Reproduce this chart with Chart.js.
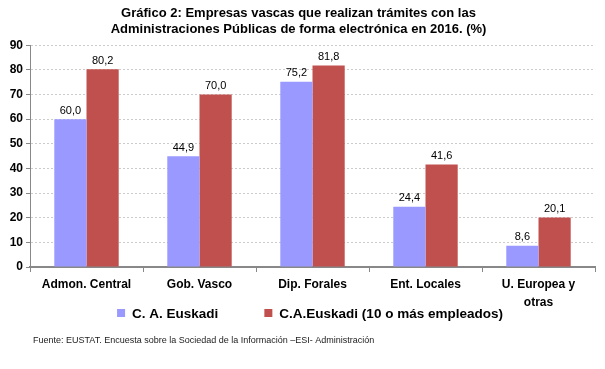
<!DOCTYPE html>
<html>
<head>
<meta charset="utf-8">
<script src="https://cdn.jsdelivr.net/npm/chart.js@4/dist/chart.umd.min.js"></script>
<style>
  html, body { margin: 0; padding: 0; background: #fff; }
  #wrap { width: 605px; height: 369px; }
</style>
</head>
<body>
<div id="wrap"><canvas id="chart" width="605" height="369"></canvas></div>
<script>
// datos del grafico
const categorias = ['Admon. Central', 'Gob. Vasco', 'Dip. Forales', 'Ent. Locales', ['U. Europea y', 'otras']];
const euskadi = [60.0, 44.9, 75.2, 24.4, 8.6];
const euskadi10 = [80.2, 70.0, 81.8, 41.6, 20.1];
const series = ['C. A. Euskadi', 'C.A.Euskadi (10 o más empleados)'];
const ticksY = [0, 10, 20, 30, 40, 50, 60, 70, 80, 90];
const fuente = 'Fuente: EUSTAT. Encuesta sobre la Sociedad de la Información –ESI- Administración';

const FONT = "'Liberation Sans', Arial, sans-serif";

// etiquetas encima de las barras
const etiquetas = {
    id: 'etiquetas',
    afterDatasetsDraw(chart) {
        const ctx = chart.ctx;
        ctx.save();
        ctx.font = '11px ' + FONT;
        ctx.fillStyle = '#000';
        ctx.textAlign = 'center';
        ctx.textBaseline = 'bottom';
        chart.data.datasets.forEach((ds, i) => {
            chart.getDatasetMeta(i).data.forEach((bar, j) => {
                ctx.fillText(ds.data[j].toFixed(1).replace('.', ','), bar.x, bar.y - 3);
            });
        });
        ctx.restore();
    }
};

// leyenda propia (mas espacio entre series) y la fuente abajo
const leyendaYFuente = {
    id: 'leyendaYFuente',
    afterDraw(chart) {
        const ctx = chart.ctx;
        const ds = chart.data.datasets;
        ctx.save();
        ctx.font = 'bold 13.5px ' + FONT;
        ctx.textBaseline = 'middle';
        const gap = 46;
        const anchos = ds.map(d => 15 + ctx.measureText(d.label).width);
        let x = 310 - (anchos.reduce((a, b) => a + b, 0) + gap) / 2;
        const y = 313;
        ds.forEach((d, i) => {
            ctx.fillStyle = d.backgroundColor;
            ctx.fillRect(x, y - 4, 8, 8);
            ctx.fillStyle = '#000';
            ctx.fillText(d.label, x + 15, y + 1);
            x += anchos[i] + gap;
        });

        ctx.font = '9px ' + FONT;
        ctx.fillStyle = '#222';
        ctx.fillText(fuente, 33, 341);
        ctx.restore();
    }
};

new Chart(document.getElementById('chart'), {
    type: 'bar',
    data: {
        labels: categorias,
        datasets: [
            { label: series[0], data: euskadi, backgroundColor: '#9999FF' },
            { label: series[1], data: euskadi10, backgroundColor: '#C0504D' }
        ]
    },
    options: {
        responsive: false,
        animation: false,
        devicePixelRatio: 1,
        categoryPercentage: 0.57,
        barPercentage: 1,
        layout: { padding: { left: 2, right: 10, top: 4, bottom: 53 } },
        plugins: {
            title: {
                display: true,
                text: ['Gráfico 2: Empresas vascas que realizan trámites con las', 'Administraciones Públicas de forma electrónica en 2016. (%)'],
                font: { family: FONT, size: 13, weight: 'bold' },
                color: '#000',
                lineHeight: 1.3,
                padding: { top: 2, bottom: 8 }
            },
            legend: { display: false },
            tooltip: { enabled: false }
        },
        scales: {
            x: {
                grid: { offset: true, drawOnChartArea: false, drawTicks: true, tickLength: 5, color: '#888' },
                border: { color: '#888', width: 2 },
                ticks: { color: '#000', font: { family: FONT, size: 12, weight: 'bold', lineHeight: 1.5 }, padding: 4, maxRotation: 0 }
            },
            y: {
                min: 0,
                max: 90,
                afterBuildTicks(scale) { scale.ticks = ticksY.map(v => ({ value: v })); },
                afterFit(scale) { scale.width = 28; },
                grid: { color: '#cccccc', tickLength: 4, tickColor: '#888' },
                border: { color: '#888', width: 1, dash: [2, 2] },
                ticks: { color: '#000', font: { family: FONT, size: 12, weight: 'bold' }, padding: 3 }
            }
        }
    },
    plugins: [etiquetas, leyendaYFuente]
});
</script>
</body>
</html>
